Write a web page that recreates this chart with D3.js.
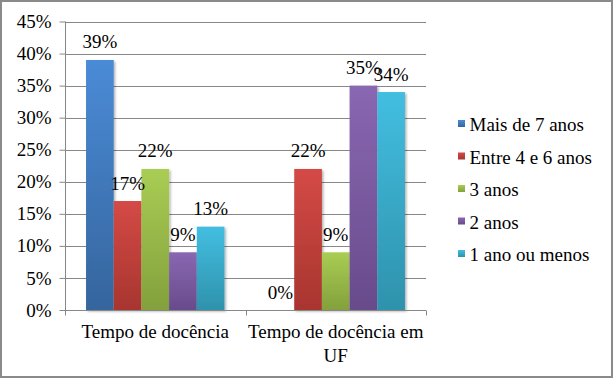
<!DOCTYPE html>
<html>
<head>
<meta charset="utf-8">
<script src="https://cdn.jsdelivr.net/npm/d3@7"></script>
<style>
  html, body { margin: 0; padding: 0; background: #fff; }
  svg { display: block; }
  text { font-family: "Liberation Serif", "Times New Roman", serif; fill: #000; }
</style>
</head>
<body>
<svg id="chart" width="614" height="382"></svg>
<script>
const categories = ["Tempo de docência", "Tempo de docência em UF"];
const seriesNames = ["Mais de 7 anos", "Entre 4 e 6 anos", "3 anos", "2 anos", "1 ano ou menos"];
const seriesValues = [
  [0.39, 0.00],
  [0.17, 0.22],
  [0.22, 0.09],
  [0.09, 0.35],
  [0.13, 0.34]
];
const yTicks = [0, 0.05, 0.10, 0.15, 0.20, 0.25, 0.30, 0.35, 0.40, 0.45];
const colorsTop = ["#4a8bd6", "#d44a46", "#a9cd54", "#8a67b2", "#43bee1"];
const colorsBottom = ["#35659d", "#a8352f", "#83a03c", "#684b8b", "#2e92ac"];

(function () {
const svg = d3.select("#chart");
const W = 614;
const plotL = 65, plotR = 426, plotT = 21.5, plotB = 310;
const fontSize = 19;

// outer frame
svg.append("rect").attr("x", 1).attr("y", 1).attr("width", W - 3).attr("height", 376)
  .attr("fill", "#fff").attr("stroke", "#8a8a8a").attr("stroke-width", 2);

const defs = svg.append("defs");
seriesNames.forEach((s, i) => {
  const g = defs.append("linearGradient").attr("id", "grad" + i)
    .attr("x1", 0).attr("y1", 0).attr("x2", 0).attr("y2", 1);
  g.append("stop").attr("offset", "0%").attr("stop-color", colorsTop[i]);
  g.append("stop").attr("offset", "100%").attr("stop-color", colorsBottom[i]);
});
const f = defs.append("filter").attr("id", "shadow").attr("x", "-20%").attr("y", "-20%").attr("width", "140%").attr("height", "140%");
f.append("feDropShadow").attr("dx", 1.5).attr("dy", 1.5).attr("stdDeviation", 1.2)
  .attr("flood-color", "#000").attr("flood-opacity", 0.3);

const y = d3.scaleLinear().domain([0, 0.45]).range([plotB, plotT]);
const x0 = d3.scaleBand().domain(categories).range([plotL, plotR]).paddingInner(0).paddingOuter(0);
const x1 = d3.scaleBand().domain(seriesNames).range([0, x0.bandwidth()]).paddingInner(0).paddingOuter(0.76);

// gridlines
svg.append("g").selectAll("line").data(yTicks.filter(d => d > 0)).join("line")
  .attr("x1", plotL).attr("x2", plotR)
  .attr("y1", d => Math.round(y(d)) + 0.5).attr("y2", d => Math.round(y(d)) + 0.5)
  .attr("stroke", "#878787").attr("stroke-width", 1);

// y axis
const yAxis = d3.axisLeft(y).tickValues(yTicks).tickFormat(d3.format(".0%")).tickSize(6).tickPadding(8);
const gy = svg.append("g").attr("transform", `translate(${plotL + 0.5},0)`).call(yAxis);
gy.select(".domain").attr("stroke", "#878787").attr("d", `M0,${y(0.45)}V${plotB}`);
gy.selectAll(".tick line").attr("stroke", "#878787");
gy.selectAll(".tick text").attr("font-size", fontSize).attr("font-family", "Liberation Serif").attr("fill", "#000");

// bars
const groups = svg.append("g").selectAll("g").data(categories).join("g")
  .attr("transform", d => `translate(${x0(d)},0)`);
groups.selectAll("rect").data((c, ci) => seriesNames.map((s, si) => ({ s, si, v: seriesValues[si][ci] })))
  .join("rect")
  .attr("x", d => x1(d.s))
  .attr("width", x1.bandwidth())
  .attr("y", d => y(d.v))
  .attr("height", d => y(0) - y(d.v))
  .attr("fill", d => `url(#grad${d.si})`)
  .attr("filter", "url(#shadow)");

// x axis
const xAxis = d3.axisBottom(x0).tickSize(0).tickFormat("");
const gx = svg.append("g").attr("transform", `translate(0,${Math.round(plotB) + 0.5})`).call(xAxis);
gx.select(".domain").attr("stroke", "#878787").attr("d", `M${plotL},0H${plotR}`);
const sepTicks = [plotL, ...categories.slice(1).map(c => x0(c)), plotR];
gx.selectAll(".sep").data(sepTicks).join("line").attr("class", "sep")
  .attr("x1", d => Math.round(d) + 0.5).attr("x2", d => Math.round(d) + 0.5)
  .attr("y1", 0).attr("y2", 5).attr("stroke", "#878787");

// category labels with wrapping
categories.forEach(c => {
  const cx = x0(c) + x0.bandwidth() / 2;
  const t = svg.append("text").attr("x", cx).attr("y", 337.5).attr("text-anchor", "middle").attr("font-size", fontSize);
  const words = c.split(" ");
  let line = [], lineNo = 0;
  let tspan = t.append("tspan").attr("x", cx).attr("y", 337.5);
  words.forEach(w => {
    line.push(w);
    tspan.text(line.join(" "));
    if (tspan.node().getComputedTextLength() > x0.bandwidth() - 2 && line.length > 1) {
      line.pop();
      tspan.text(line.join(" "));
      line = [w];
      lineNo++;
      tspan = t.append("tspan").attr("x", cx).attr("y", 337.5 + lineNo * 24.5).text(w);
    }
  });
});

// data labels
groups.selectAll("text.lbl").data((c, ci) => seriesNames.map((s, si) => ({ s, si, v: seriesValues[si][ci] })))
  .join("text").attr("class", "lbl")
  .attr("x", d => x1(d.s) + x1.bandwidth() / 2)
  .attr("y", d => y(d.v) - 11.5)
  .attr("text-anchor", "middle")
  .attr("font-size", fontSize)
  .text(d => d3.format(".0%")(d.v));

// legend
const lg = svg.append("g").selectAll("g").data(seriesNames).join("g")
  .attr("transform", (d, i) => `translate(458,${120 + i * 32.5})`);
lg.append("rect").attr("width", 7).attr("height", 7).attr("fill", (d, i) => `url(#grad${i})`);
lg.append("text").attr("x", 11.5).attr("y", 11).attr("font-size", fontSize).text(d => d);
})();
</script>
</body>
</html>
